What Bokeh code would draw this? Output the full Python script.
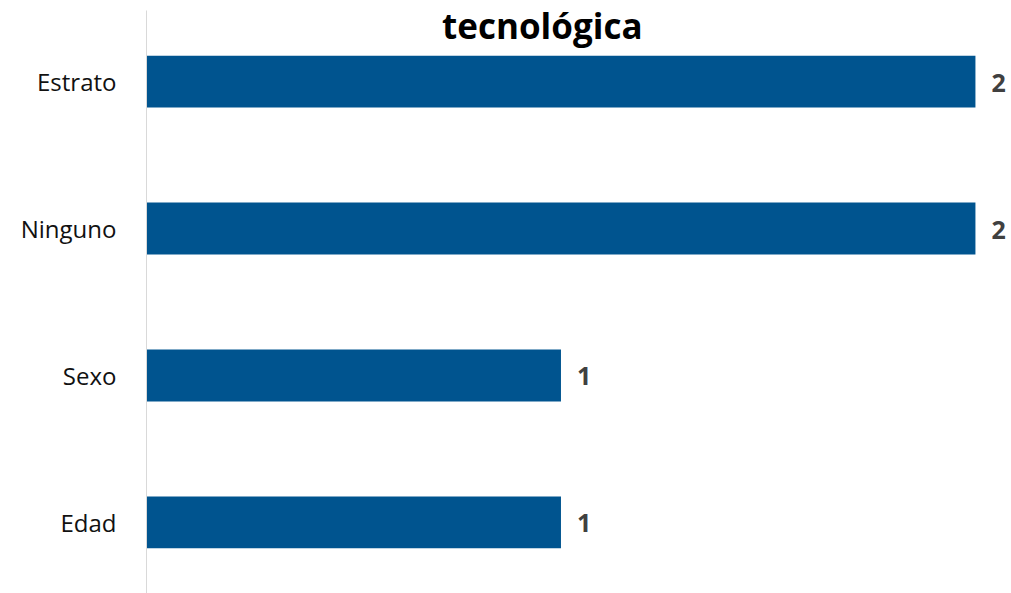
from bokeh.plotting import figure
from bokeh.models import FactorRange, Range1d, ColumnDataSource, Label
from bokeh.core.properties import value
from bokeh.embed import file_html
from bokeh.resources import INLINE

categories = ["Estrato", "Ninguno", "Sexo", "Edad"]
counts = [2, 2, 1, 1]
title_text = "tecnológica"

factors = list(reversed(categories))
src = ColumnDataSource(dict(cat=categories, val=counts, lbl=[str(v) for v in counts]))

p = figure(width=1011, height=593, output_backend="svg", toolbar_location=None,
           y_range=FactorRange(*factors, range_padding=-0.008),
           x_range=Range1d(0, 2.087),
           min_border_left=146, min_border_right=0, min_border_top=10, min_border_bottom=0)
p.outline_line_color = None
p.xgrid.visible = False
p.ygrid.visible = False
p.xaxis.visible = False

p.hbar(y="cat", right="val", left=0, height=0.353, source=src,
       fill_color="#00548F", line_color=None)
p.text(x="val", y="cat", text="lbl", source=src, x_offset=16, y_offset=1,
       text_baseline="middle", text_align="left", text_font_size="25px",
       text_font_style="bold", text_color="#404040", text_font=value("Open Sans"))

title = Label(x=0.955, y=3.5, y_offset=56, text=title_text,
              text_align="center", text_baseline="alphabetic", text_font_size="35px",
              text_font_style="bold", text_color="#000000", text_font="Open Sans")
p.add_layout(title)

ax = p.yaxis[0]
ax.axis_line_color = "#D9D9D9"
ax.axis_line_width = 1
ax.major_tick_line_color = None
ax.minor_tick_line_color = None
ax.major_label_standoff = 24
ax.major_label_text_font = "Open Sans"
ax.major_label_text_font_size = "24px"
ax.major_label_text_color = "#111111"

open("out.html", "w").write(file_html(p, INLINE))
